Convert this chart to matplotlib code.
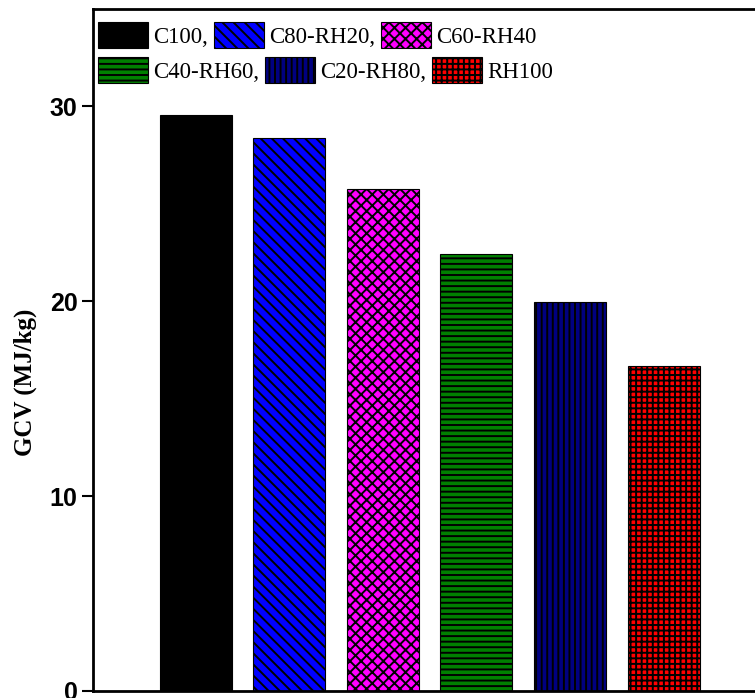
import matplotlib
matplotlib.use('Agg')
import matplotlib.pyplot as plt

# GCV of each blend
campioni = ['C100', 'C80-RH20', 'C60-RH40', 'C40-RH60', 'C20-RH80', 'RH100']
etichette = ['C100,', 'C80-RH20,', 'C60-RH40', 'C40-RH60,', 'C20-RH80,', 'RH100']
gcv = [29.55, 28.4, 25.75, 22.45, 19.95, 16.7]
colori = ['black', '#0000ff', '#ff00ff', '#008000', '#000080', '#ff0000']
tratteggi = ['', '\\\\\\', 'xxx', '---', '|||', '+++']

plt.rcParams['hatch.linewidth'] = 1.4

fig = plt.figure(figsize=(7.55, 6.98), dpi=100)
ax = fig.add_axes([93 / 755, 7 / 698, 665 / 755, 682 / 698])

barre = []
for i in range(len(campioni)):
    b = ax.bar(i, gcv[i], width=0.77, color=colori[i], edgecolor='black',
               hatch=tratteggi[i], linewidth=0.8, label=etichette[i])
    barre.append(b)

ax.set_xlim(-1.10, 6.01)
ax.set_ylim(0, 35)
ax.set_xticks([])
ax.set_yticks([0, 10, 20, 30])
ax.tick_params(axis='y', direction='out', length=8, width=1.5, pad=3)
for lab in ax.get_yticklabels():
    lab.set_fontfamily('Liberation Sans')
    lab.set_fontweight('bold')
    lab.set_fontsize(18)

for lato in ['left', 'top', 'bottom']:
    ax.spines[lato].set_linewidth(2)
ax.spines['right'].set_visible(False)

ax.set_ylabel('GCV (MJ/kg)', fontfamily='Liberation Serif', fontweight='bold',
              fontsize=18)
ax.yaxis.set_label_coords(-0.084, 0.452)

# legend on two rows, the way the original figure flows it
font_leg = {'family': 'Liberation Serif', 'size': 16.5}
opz = dict(ncol=3, frameon=False, prop=font_leg, handlelength=2.18, handleheight=1.31,
           handletextpad=0.22, columnspacing=0.26, borderpad=0, borderaxespad=0,
           loc='center left', bbox_transform=fig.transFigure)
leg1 = ax.legend(barre[:3], etichette[:3], bbox_to_anchor=(98 / 755, 1 - 35 / 698), **opz)
ax.add_artist(leg1)
ax.legend(barre[3:], etichette[3:], bbox_to_anchor=(98 / 755, 1 - 70 / 698), **opz)

fig.savefig('out.png', dpi=100)
